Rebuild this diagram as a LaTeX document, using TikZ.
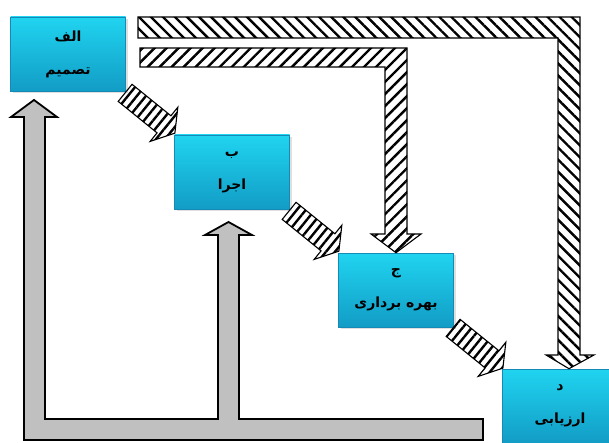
\documentclass[tikz,border=0pt]{standalone}
\usepackage{fontspec}
\newfontfamily\arabicfont[Script=Arabic]{DejaVu Sans}
\TeXXeTstate=1
\usetikzlibrary{calc,patterns.meta,shadows}
\definecolor{boxtop}{RGB}{32,212,240}
\definecolor{boxbottom}{RGB}{18,156,198}
\definecolor{boxline}{RGB}{22,138,182}
\definecolor{backfill}{RGB}{192,192,192}

\begin{document}
\begin{tikzpicture}[x=1pt, y=-1pt,
    box/.style={rectangle, minimum width=115, minimum height=74, inner sep=2pt,
        top color=boxtop, bottom color=boxbottom, draw=boxline, line width=0.6pt,
        drop shadow={opacity=0.25, shadow xshift=2pt, shadow yshift=-2pt},
        align=center, font=\arabicfont\bfseries\fontsize{14}{33}\selectfont},
    hatchright/.style={draw, line width=1.1pt, pattern={Lines[angle=-45, distance=8.5pt, line width=2.4pt]}},
    hatchleft/.style={draw, line width=1.1pt, pattern={Lines[angle=45, distance=8.5pt, line width=2.4pt]}},
    hatchdiag/.style={draw, line width=1.1pt, pattern={Lines[angle=51, distance=7pt, line width=2.4pt]}},
    back/.style={draw, line width=1.8pt, fill=backfill}]

    \useasboundingbox (0,0) rectangle (609,443);
    \clip (0,0) rectangle (609,443);

    \node[box] (a) at (68, 54)  {\beginR الف\endR\\\beginR تصمیم\endR};
    \node[box] (b) at (232, 172) {\beginR ب\endR\\\beginR اجرا\endR};
    \node[box] (c) at (396, 290) {\beginR ج\endR\\\beginR بهره برداری\endR};
    \node[box] (d) at (560, 406) {\beginR د\endR\\\beginR ارزیابی\endR};

    \coordinate (tipd) at ($(d.north)+(9,0)$);
    \coordinate (tipa) at (34, 100);
    \coordinate (tipb) at (228.5, 222);

    % hatched arrows from one step to the next
    \draw[hatchdiag, shift={($(a.south east)!.5!(b.north west)$)}, rotate=-39]
        (-32,-11) -- (18,-11) -- (18,-22) -- (32,0) -- (18,22) -- (18,11) -- (-32,11) -- cycle;
    \draw[hatchdiag, shift={($(b.south east)!.5!(c.north west)$)}, rotate=-39]
        (-32,-11) -- (18,-11) -- (18,-22) -- (32,0) -- (18,22) -- (18,11) -- (-32,11) -- cycle;
    \draw[hatchdiag, shift={($(c.south east)!.5!(d.north west)$)}, rotate=-39]
        (-32,-11) -- (18,-11) -- (18,-22) -- (32,0) -- (18,22) -- (18,11) -- (-32,11) -- cycle;

    % long arrows over the top
    \draw[hatchright] (138,17) -- (580,17) -- (580,355) -- (594,355) -- (tipd)
        -- (546,355) -- (558,355) -- (558,38) -- (138,38) -- cycle;
    \draw[hatchleft] (140,48) -- (407,48) -- (407,234) -- (421,234) -- (c.north)
        -- (371,234) -- (385,234) -- (385,67) -- (140,67) -- cycle;

    % feedback arrow
    \draw[back] (24,440) -- (483,440) -- (483,419) -- (239,419) -- (239,235) -- (252,235)
        -- (tipb) -- (205,235) -- (218,235) -- (218,419) -- (45,419) -- (45,117)
        -- (57,117) -- (tipa) -- (11,117) -- (24,117) -- cycle;

\end{tikzpicture}
\end{document}
